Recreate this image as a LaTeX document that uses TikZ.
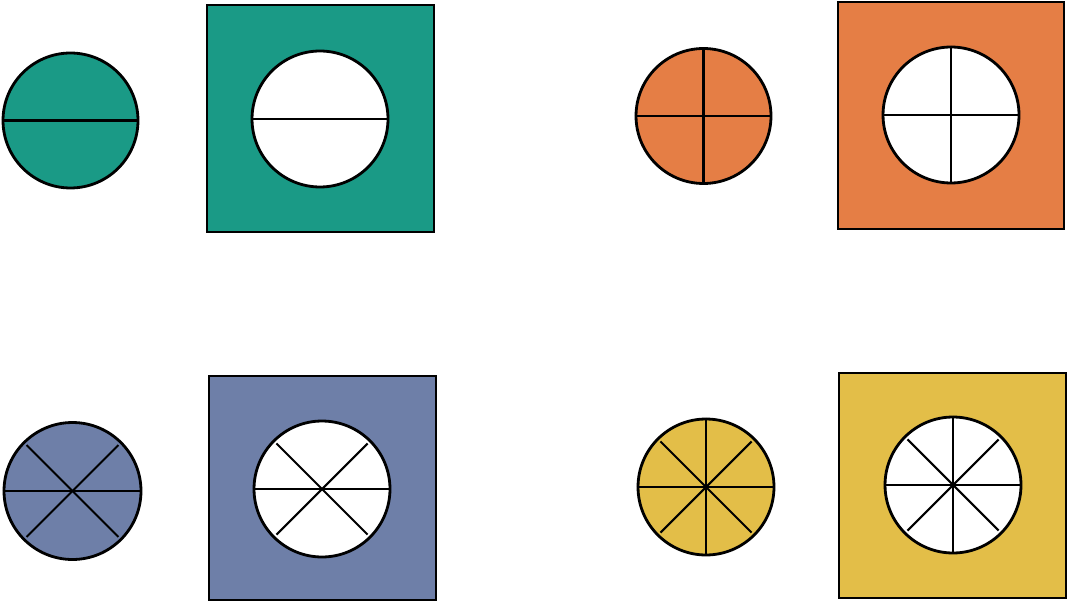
\documentclass[tikz,border=0pt]{standalone}
\usepackage{tikz}
\usetikzlibrary{positioning, calc}
\usepackage{xcolor}

\definecolor{tealpart}{HTML}{1A9A86}
\definecolor{orangepart}{HTML}{E57E45}
\definecolor{bluepart}{HTML}{6E7FA8}
\definecolor{yellowpart}{HTML}{E3BE48}

\begin{document}
\begin{tikzpicture}[
    x=0.02cm, y=-0.02cm,
    disc/.style={circle, draw, line width=1.6pt, minimum size=2.7cm, inner sep=0pt},
    hole/.style={disc, fill=white, minimum size=2.72cm},
    panel/.style={rectangle, draw, line width=1.3pt, minimum width=4.54cm, minimum height=4.54cm, inner sep=0pt},
    spoke/.style={line width=1.2pt},
    diag/.style={spoke, shorten <=0.1cm, shorten >=0.1cm}
]
\useasboundingbox (0,0) rectangle (1070,601);

% Halves (top left)
\node[disc, fill=tealpart] (halfDisc) at (70.5,120.5) {};
\draw[spoke] (halfDisc.west) -- (halfDisc.east);
\node[panel, fill=tealpart] (halfPanel) at (320.5,118.5) {};
\node[hole] (halfHole) at (320,119) {};
\draw[spoke] (halfHole.west) -- (halfHole.east);

% Quarters (top right)
\node[disc, fill=orangepart] (quarterDisc) at (703.5,116) {};
\draw[spoke] (quarterDisc.west) -- (quarterDisc.east);
\draw[spoke] (quarterDisc.north) -- (quarterDisc.south);
\node[panel, fill=orangepart, minimum width=4.52cm] (quarterPanel) at (951,115.5) {};
\node[hole] (quarterHole) at (951,115) {};
\draw[spoke] (quarterHole.west) -- (quarterHole.east);
\draw[spoke] (quarterHole.north) -- (quarterHole.south);

% Sixths (bottom left)
\node[disc, fill=bluepart, minimum size=2.74cm] (sixthDisc) at (72.5,491) {};
\draw[spoke] (sixthDisc.west) -- (sixthDisc.east);
\draw[diag] (sixthDisc.135) -- (sixthDisc.-45);
\draw[diag] (sixthDisc.45) -- (sixthDisc.-135);
\node[panel, fill=bluepart, minimum height=4.48cm] (sixthPanel) at (322.5,488) {};
\node[hole] (sixthHole) at (322,489) {};
\draw[spoke] (sixthHole.west) -- (sixthHole.east);
\draw[diag] (sixthHole.135) -- (sixthHole.-45);
\draw[diag] (sixthHole.45) -- (sixthHole.-135);

% Eighths (bottom right)
\node[disc, fill=yellowpart, minimum size=2.72cm] (eighthDisc) at (706,487) {};
\draw[spoke] (eighthDisc.west) -- (eighthDisc.east);
\draw[spoke] (eighthDisc.north) -- (eighthDisc.south);
\draw[diag] (eighthDisc.135) -- (eighthDisc.-45);
\draw[diag] (eighthDisc.45) -- (eighthDisc.-135);
\node[panel, fill=yellowpart, minimum height=4.5cm] (eighthPanel) at (952.5,485.5) {};
\node[hole] (eighthHole) at (953,485) {};
\draw[spoke] (eighthHole.west) -- (eighthHole.east);
\draw[spoke] (eighthHole.north) -- (eighthHole.south);
\draw[diag] (eighthHole.135) -- (eighthHole.-45);
\draw[diag] (eighthHole.45) -- (eighthHole.-135);

\end{tikzpicture}
\end{document}
